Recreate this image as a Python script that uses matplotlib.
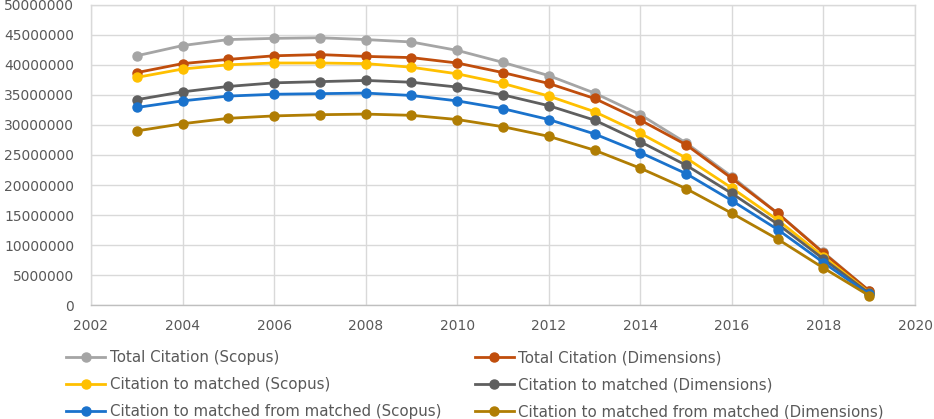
import matplotlib
matplotlib.use("Agg")
import matplotlib.pyplot as plt

years = list(range(2003, 2020))

total_scopus = [41.5, 43.2, 44.2, 44.4, 44.5, 44.2, 43.8, 42.4, 40.4, 38.2,
                35.3, 31.7, 27.0, 21.4, 15.3, 8.8, 2.4]
total_dimensions = [38.7, 40.2, 40.9, 41.5, 41.7, 41.4, 41.2, 40.3, 38.7, 36.9,
                    34.4, 30.8, 26.7, 21.1, 15.3, 8.7, 2.4]
matched_scopus = [37.9, 39.3, 40.0, 40.3, 40.3, 40.2, 39.6, 38.5, 36.9, 34.8,
                  32.2, 28.6, 24.5, 19.5, 14.2, 8.1, 2.1]
matched_dimensions = [34.2, 35.5, 36.4, 37.0, 37.2, 37.4, 37.1, 36.3, 35.0, 33.2,
                      30.8, 27.2, 23.3, 18.6, 13.5, 7.7, 2.0]
mfm_scopus = [32.9, 34.0, 34.8, 35.1, 35.2, 35.3, 34.9, 34.0, 32.7, 30.9,
              28.5, 25.4, 21.9, 17.4, 12.6, 7.1, 1.8]
mfm_dimensions = [29.0, 30.2, 31.1, 31.5, 31.7, 31.8, 31.6, 30.9, 29.7, 28.1,
                  25.8, 22.8, 19.4, 15.3, 11.0, 6.2, 1.6]

series = [
    ("Total Citation (Scopus)", total_scopus, "#A5A5A5"),
    ("Total Citation (Dimensions)", total_dimensions, "#C04D0C"),
    ("Citation to matched (Scopus)", matched_scopus, "#FFC000"),
    ("Citation to matched (Dimensions)", matched_dimensions, "#5F5F5F"),
    ("Citation to matched from matched (Scopus)", mfm_scopus, "#1A72CC"),
    ("Citation to matched from matched (Dimensions)", mfm_dimensions, "#B07D03"),
]

text_color = "#595959"
grid_color = "#D9D9D9"

fig = plt.figure(figsize=(9.34, 4.19), dpi=100)
ax = fig.add_axes([0.0974, 0.2714, 0.8823, 0.7174])

handles = []
for label, vals, color in series:
    (h,) = ax.plot(years, [v * 1e6 for v in vals], color=color, linewidth=2.0,
                   marker="o", markersize=6.5, label=label, zorder=3)
    handles.append(h)

ax.set_xlim(2002, 2020)
ax.set_ylim(0, 50000000)
ax.set_xticks(range(2002, 2021, 2))
ax.set_yticks(range(0, 50000001, 5000000))
ax.set_yticklabels([str(v) for v in range(0, 50000001, 5000000)])
ax.grid(True, color=grid_color, linewidth=1.0)
ax.set_axisbelow(True)
for s in ax.spines.values():
    s.set_color(grid_color)
    s.set_linewidth(1.0)
ax.spines["bottom"].set_color("#BFBFBF")
ax.tick_params(length=0, colors=text_color, labelsize=10)
ax.tick_params(axis="y", pad=12)
ax.tick_params(axis="x", pad=10)

# two legend columns placed below the plot
leg_kw = dict(frameon=False, fontsize=10.8, handlelength=2.6, handletextpad=0.3,
              labelspacing=0.8, labelcolor=text_color, borderaxespad=0, borderpad=0)
leg1 = fig.legend(handles[0::2], [h.get_label() for h in handles[0::2]],
                  loc="upper left", bbox_to_anchor=(66 / 934, 1 - 350 / 419), **leg_kw)
leg2 = fig.legend(handles[1::2], [h.get_label() for h in handles[1::2]],
                  loc="upper left", bbox_to_anchor=(475 / 934, 1 - 350 / 419), **leg_kw)

fig.savefig("out.png", dpi=100)
